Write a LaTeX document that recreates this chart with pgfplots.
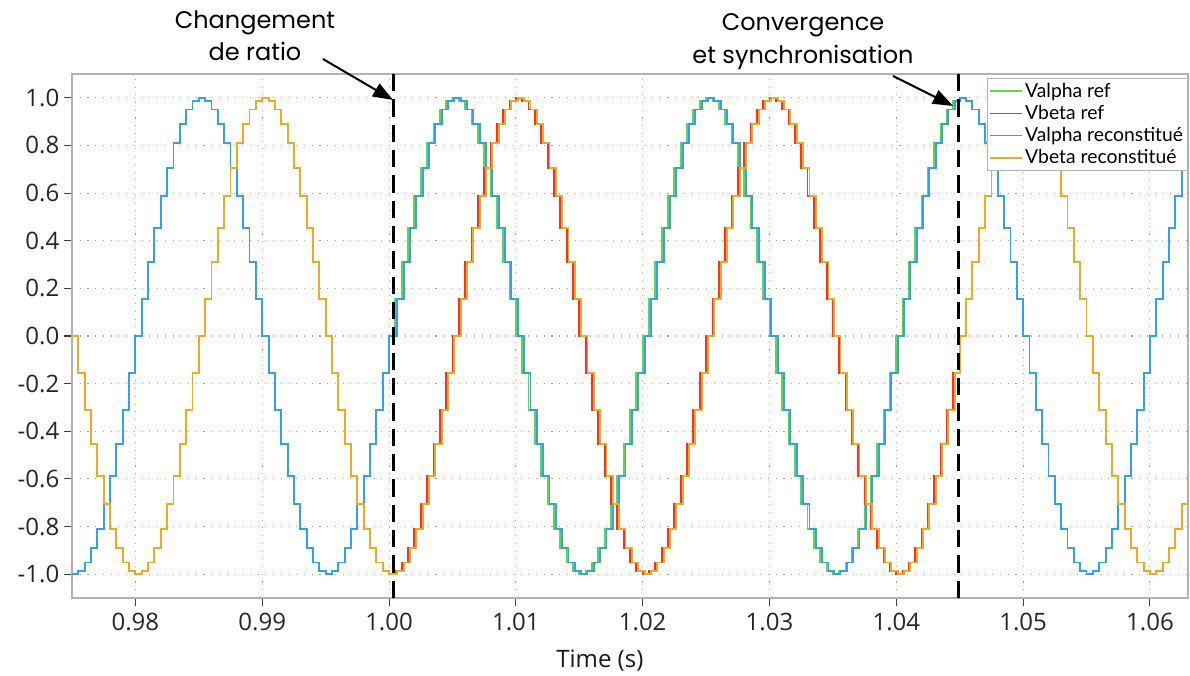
\documentclass[border=0pt]{standalone}
\usepackage{pgfplots}
\pgfplotsset{compat=1.18}
\usepackage{pgfplotstable}
\usepackage{fontspec}
\setmainfont{Open Sans}
\newfontfamily\annfont{Poppins}
\newfontfamily\legfont{Lato}
\usetikzlibrary{arrows.meta}
\definecolor{cgreen}{RGB}{105,208,80}
\definecolor{cred}{RGB}{238,52,52}
\definecolor{cblue}{RGB}{52,162,232}
\definecolor{corange}{RGB}{240,168,40}

\pgfplotstableread{
t tr a b
0.9750 0.9750 -1 0
0.9755 0.9755 -0.9877 -0.1564
0.9760 0.9760 -0.9511 -0.3090
0.9765 0.9765 -0.8910 -0.4540
0.9770 0.9770 -0.8090 -0.5878
0.9775 0.9775 -0.7071 -0.7071
0.9780 0.9780 -0.5878 -0.8090
0.9785 0.9785 -0.4540 -0.8910
0.9790 0.9790 -0.3090 -0.9511
0.9795 0.9795 -0.1564 -0.9877
0.9800 0.9800 0 -1
0.9805 0.9805 0.1564 -0.9877
0.9810 0.9810 0.3090 -0.9511
0.9815 0.9815 0.4540 -0.8910
0.9820 0.9820 0.5878 -0.8090
0.9825 0.9825 0.7071 -0.7071
0.9830 0.9830 0.8090 -0.5878
0.9835 0.9835 0.8910 -0.4540
0.9840 0.9840 0.9511 -0.3090
0.9845 0.9845 0.9877 -0.1564
0.9850 0.9850 1 0
0.9855 0.9855 0.9877 0.1564
0.9860 0.9860 0.9511 0.3090
0.9865 0.9865 0.8910 0.4540
0.9870 0.9870 0.8090 0.5878
0.9875 0.9875 0.7071 0.7071
0.9880 0.9880 0.5878 0.8090
0.9885 0.9885 0.4540 0.8910
0.9890 0.9890 0.3090 0.9511
0.9895 0.9895 0.1564 0.9877
0.9900 0.9900 0 1
0.9905 0.9905 -0.1564 0.9877
0.9910 0.9910 -0.3090 0.9511
0.9915 0.9915 -0.4540 0.8910
0.9920 0.9920 -0.5878 0.8090
0.9925 0.9925 -0.7071 0.7071
0.9930 0.9930 -0.8090 0.5878
0.9935 0.9935 -0.8910 0.4540
0.9940 0.9940 -0.9511 0.3090
0.9945 0.9945 -0.9877 0.1564
0.9950 0.9950 -1 0
0.9955 0.9955 -0.9877 -0.1564
0.9960 0.9960 -0.9511 -0.3090
0.9965 0.9965 -0.8910 -0.4540
0.9970 0.9970 -0.8090 -0.5878
0.9975 0.9975 -0.7071 -0.7071
0.9980 0.9980 -0.5878 -0.8090
0.9985 0.9985 -0.4540 -0.8910
0.9990 0.9990 -0.3090 -0.9511
0.9995 0.9995 -0.1564 -0.9877
1.0000 1.0000 0 -1
1.0005 1.00065 0.1564 -0.9877
1.0010 1.00115 0.3090 -0.9511
1.0015 1.00165 0.4540 -0.8910
1.0020 1.00215 0.5878 -0.8090
1.0025 1.00265 0.7071 -0.7071
1.0030 1.00315 0.8090 -0.5878
1.0035 1.00365 0.8910 -0.4540
1.0040 1.00415 0.9511 -0.3090
1.0045 1.00465 0.9877 -0.1564
1.0050 1.00515 1 0
1.0055 1.00565 0.9877 0.1564
1.0060 1.00615 0.9511 0.3090
1.0065 1.00665 0.8910 0.4540
1.0070 1.00715 0.8090 0.5878
1.0075 1.00765 0.7071 0.7071
1.0080 1.00815 0.5878 0.8090
1.0085 1.00865 0.4540 0.8910
1.0090 1.00915 0.3090 0.9511
1.0095 1.00965 0.1564 0.9877
1.0100 1.01015 0 1
1.0105 1.01065 -0.1564 0.9877
1.0110 1.01115 -0.3090 0.9511
1.0115 1.01165 -0.4540 0.8910
1.0120 1.01215 -0.5878 0.8090
1.0125 1.01265 -0.7071 0.7071
1.0130 1.01315 -0.8090 0.5878
1.0135 1.01365 -0.8910 0.4540
1.0140 1.01415 -0.9511 0.3090
1.0145 1.01465 -0.9877 0.1564
1.0150 1.01515 -1 0
1.0155 1.01565 -0.9877 -0.1564
1.0160 1.01615 -0.9511 -0.3090
1.0165 1.01665 -0.8910 -0.4540
1.0170 1.01715 -0.8090 -0.5878
1.0175 1.01765 -0.7071 -0.7071
1.0180 1.01815 -0.5878 -0.8090
1.0185 1.01865 -0.4540 -0.8910
1.0190 1.01915 -0.3090 -0.9511
1.0195 1.01965 -0.1564 -0.9877
1.0200 1.02015 0 -1
1.0205 1.02065 0.1564 -0.9877
1.0210 1.02115 0.3090 -0.9511
1.0215 1.02165 0.4540 -0.8910
1.0220 1.02215 0.5878 -0.8090
1.0225 1.02265 0.7071 -0.7071
1.0230 1.02315 0.8090 -0.5878
1.0235 1.02365 0.8910 -0.4540
1.0240 1.02415 0.9511 -0.3090
1.0245 1.02465 0.9877 -0.1564
1.0250 1.02515 1 0
1.0255 1.02565 0.9877 0.1564
1.0260 1.02615 0.9511 0.3090
1.0265 1.02665 0.8910 0.4540
1.0270 1.02715 0.8090 0.5878
1.0275 1.02765 0.7071 0.7071
1.0280 1.02815 0.5878 0.8090
1.0285 1.02865 0.4540 0.8910
1.0290 1.02915 0.3090 0.9511
1.0295 1.02965 0.1564 0.9877
1.0300 1.03015 0 1
1.0305 1.03065 -0.1564 0.9877
1.0310 1.03115 -0.3090 0.9511
1.0315 1.03165 -0.4540 0.8910
1.0320 1.03215 -0.5878 0.8090
1.0325 1.03265 -0.7071 0.7071
1.0330 1.03315 -0.8090 0.5878
1.0335 1.03365 -0.8910 0.4540
1.0340 1.03415 -0.9511 0.3090
1.0345 1.03465 -0.9877 0.1564
1.0350 1.0351 -1 0
1.0355 1.0356 -0.9877 -0.1564
1.0360 1.0361 -0.9511 -0.3090
1.0365 1.0366 -0.8910 -0.4540
1.0370 1.0371 -0.8090 -0.5878
1.0375 1.0376 -0.7071 -0.7071
1.0380 1.0381 -0.5878 -0.8090
1.0385 1.0386 -0.4540 -0.8910
1.0390 1.0391 -0.3090 -0.9511
1.0395 1.0396 -0.1564 -0.9877
1.0400 1.0401 0 -1
1.0405 1.0406 0.1564 -0.9877
1.0410 1.0411 0.3090 -0.9511
1.0415 1.0416 0.4540 -0.8910
1.0420 1.0421 0.5878 -0.8090
1.0425 1.0426 0.7071 -0.7071
1.0430 1.0431 0.8090 -0.5878
1.0435 1.0436 0.8910 -0.4540
1.0440 1.0441 0.9511 -0.3090
1.0445 1.0446 0.9877 -0.1564
1.0450 1.0450 1 0
1.0455 1.0455 0.9877 0.1564
1.0460 1.0460 0.9511 0.3090
1.0465 1.0465 0.8910 0.4540
1.0470 1.0470 0.8090 0.5878
1.0475 1.0475 0.7071 0.7071
1.0480 1.0480 0.5878 0.8090
1.0485 1.0485 0.4540 0.8910
1.0490 1.0490 0.3090 0.9511
1.0495 1.0495 0.1564 0.9877
1.0500 1.0500 0 1
1.0505 1.0505 -0.1564 0.9877
1.0510 1.0510 -0.3090 0.9511
1.0515 1.0515 -0.4540 0.8910
1.0520 1.0520 -0.5878 0.8090
1.0525 1.0525 -0.7071 0.7071
1.0530 1.0530 -0.8090 0.5878
1.0535 1.0535 -0.8910 0.4540
1.0540 1.0540 -0.9511 0.3090
1.0545 1.0545 -0.9877 0.1564
1.0550 1.0550 -1 0
1.0555 1.0555 -0.9877 -0.1564
1.0560 1.0560 -0.9511 -0.3090
1.0565 1.0565 -0.8910 -0.4540
1.0570 1.0570 -0.8090 -0.5878
1.0575 1.0575 -0.7071 -0.7071
1.0580 1.0580 -0.5878 -0.8090
1.0585 1.0585 -0.4540 -0.8910
1.0590 1.0590 -0.3090 -0.9511
1.0595 1.0595 -0.1564 -0.9877
1.0600 1.0600 0 -1
1.0605 1.0605 0.1564 -0.9877
1.0610 1.0610 0.3090 -0.9511
1.0615 1.0615 0.4540 -0.8910
1.0620 1.0620 0.5878 -0.8090
1.0625 1.0625 0.7071 -0.7071
1.0630 1.0630 0.8090 -0.5878
1.0635 1.0635 0.8910 -0.4540
}\sig

\begin{document}
\begin{tikzpicture}
\begin{axis}[
  scale only axis, width=837pt, height=393pt,
  xmin=0.975, xmax=1.063, ymin=-1.1, ymax=1.1,
  xtick={0.98,0.99,1.00,1.01,1.02,1.03,1.04,1.05,1.06},
  ytick={-1,-0.8,-0.6,-0.4,-0.2,0,0.2,0.4,0.6,0.8,1},
  scaled x ticks=false,
  xticklabel style={/pgf/number format/.cd, fixed, fixed zerofill, precision=2},
  yticklabel style={/pgf/number format/.cd, fixed, fixed zerofill, precision=1},
  /pgf/number format/assume math mode=true,
  tick label style={font=\fontsize{18}{21}\selectfont, text=black!85},
  xticklabel shift=2pt,
  tick pos=left, tick align=outside, major tick length=6pt,
  tick style={gray!50!black, line width=0.8pt},
  grid=major,
  major grid style={gray!70, dash pattern=on 0.8pt off 5pt, line width=0.8pt},
  axis line style={gray!60, line width=1.2pt},
  xlabel={Time (s)},
  xlabel style={font=\fontsize{18}{21}\selectfont, text=black!90, at={(rel axis cs:0.473,0)}, anchor=base, yshift=-52pt},
  clip mode=individual,
  legend style={at={(1,1)}, anchor=north east, yshift=-3pt, draw=gray!60, fill=white,
    font=\legfont\fontsize{14.5}{17}\selectfont, inner sep=1.5pt, row sep=0.5pt,
    cells={anchor=west}},
  legend image code/.code={\draw[#1, line width=1.1pt] (0pt,0pt) -- (24pt,0pt);},
]
\addplot[const plot, cgreen, line width=1.4pt] table[x=t, y=a] {\sig};
\addplot[const plot, cred, line width=1.4pt] table[x=t, y=b] {\sig};
\addplot[const plot, cblue, line width=1.4pt] table[x=tr, y=a] {\sig};
\addplot[const plot, corange, line width=1.4pt] table[x=tr, y=b] {\sig};
\legend{Valpha ref, Vbeta ref, Valpha reconstitué, Vbeta reconstitué}
\addplot[forget plot, black, line width=2.2pt, dash pattern=on 13pt off 6pt] coordinates {(1.00035,1.1) (1.00035,-1.1)};
\addplot[forget plot, black, line width=2.2pt, dash pattern=on 13pt off 6pt] coordinates {(1.0449,1.1) (1.0449,-1.1)};
\node[font=\annfont\fontsize{18}{21}\selectfont, anchor=base] at (axis cs:0.98943,1.293) {Changement};
\node[font=\annfont\fontsize{18}{21}\selectfont, anchor=base] at (axis cs:0.98943,1.155) {de ratio};
\node[font=\annfont\fontsize{18}{21}\selectfont, anchor=base] at (axis cs:1.03264,1.281) {Convergence};
\node[font=\annfont\fontsize{18}{21}\selectfont, anchor=base] at (axis cs:1.03264,1.142) {et synchronisation};
\draw[-{Triangle[length=15pt,width=11pt]}, line width=1.5pt] (axis cs:0.99479,1.163) -- (axis cs:1.00031,0.991);
\draw[-{Triangle[length=15pt,width=11pt]}, line width=1.5pt] (axis cs:1.03974,1.092) -- (axis cs:1.04447,0.966);
\end{axis}
\path (current axis.south west) ++(-54pt,-57.75pt) rectangle ([shift={(1.5pt,55.5pt)}]current axis.north east);
\end{tikzpicture}
\end{document}
